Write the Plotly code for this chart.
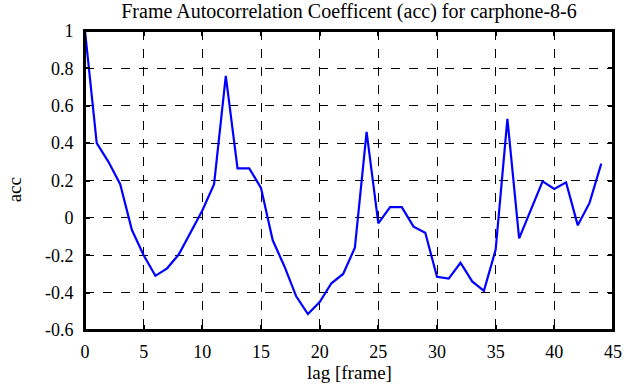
import plotly.graph_objects as go

lags = list(range(45))
acc = [1.0, 0.40, 0.30, 0.18, -0.065, -0.20, -0.31, -0.27, -0.195, -0.08,
       0.04, 0.18, 0.76, 0.265, 0.265, 0.16, -0.12, -0.26, -0.42, -0.515,
       -0.45, -0.35, -0.30, -0.16, 0.46, -0.03, 0.057, 0.057, -0.047, -0.08,
       -0.315, -0.325, -0.24, -0.34, -0.39, -0.17, 0.53, -0.11, 0.04, 0.195,
       0.155, 0.19, -0.04, 0.08, 0.29]

x_ticks = [0, 5, 10, 15, 20, 25, 30, 35, 40, 45]
y_ticks = [-0.6, -0.4, -0.2, 0, 0.2, 0.4, 0.6, 0.8, 1]
y_tick_text = ["-0.6", "-0.4", "-0.2", "0", "0.2", "0.4", "0.6", "0.8", "1"]

font = "Liberation Serif, Times New Roman, serif"

fig = go.Figure()
fig.add_trace(go.Scatter(x=lags, y=acc, mode="lines",
                         line=dict(color="#0000ff", width=2.2)))

axis_common = dict(showline=True, linecolor="black", linewidth=2, mirror="ticks",
                   ticks="inside", ticklen=5, tickwidth=1.5, tickcolor="black",
                   showgrid=True, gridcolor="black", gridwidth=1, griddash="dash",
                   zeroline=False, automargin=False,
                   tickfont=dict(family=font, size=18, color="black"))

fig.update_xaxes(range=[0, 45], tickvals=x_ticks, ticklabelstandoff=4, **axis_common)
fig.update_yaxes(range=[-0.6, 1], tickvals=y_ticks, ticktext=y_tick_text,
                 ticklabelstandoff=6, **axis_common)

fig.add_shape(type="rect", xref="paper", yref="paper", x0=0, y0=0, x1=1, y1=1,
              line=dict(color="black", width=2), layer="above")

fig.add_annotation(text="lag [frame]", xref="paper", yref="paper", x=0.5, y=-0.142,
                   xanchor="center", yanchor="middle", showarrow=False,
                   font=dict(family=font, size=19, color="black"))
fig.add_annotation(text="acc", xref="paper", yref="paper", x=-0.134, y=0.468,
                   xanchor="center", yanchor="middle", showarrow=False, textangle=-90,
                   font=dict(family=font, size=19, color="black"))

fig.update_layout(
    width=635, height=387,
    margin=dict(l=85, r=22, t=31, b=57),
    paper_bgcolor="white", plot_bgcolor="white",
    showlegend=False,
    title=dict(text="Frame Autocorrelation Coefficent (acc) for carphone-8-6",
               x=0.5, xref="paper", xanchor="center", y=0.972, yanchor="middle",
               font=dict(family=font, size=20, color="black")),
)

fig.write_html("out.html", config={"displayModeBar": False},
               post_script="document.body.style.margin='0';")
